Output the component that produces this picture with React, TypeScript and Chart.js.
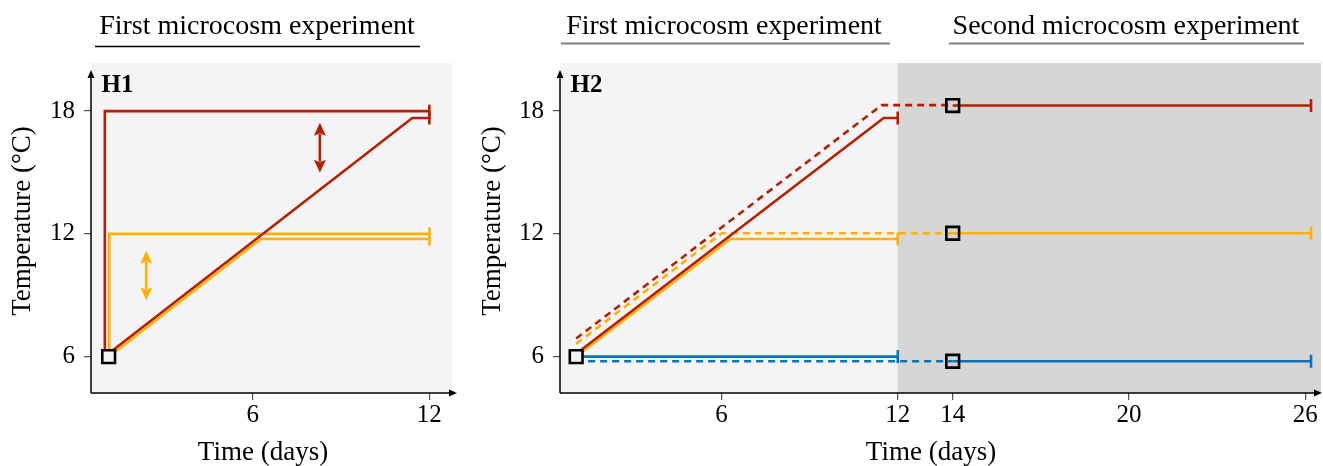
import React, { useEffect, useRef } from "react";
import { Chart, registerables } from "chart.js";

Chart.register(...registerables);

const FONT = "'Liberation Serif', 'Times New Roman', serif";

const RED = "#B51F00";
const YELLOW = "#FFB000";
const BLUE = "#0A72B8";
const LIGHT_BG = "#F4F4F7";
const DARK_BG = "#D6D6D6";

// Tick labels
const Y_TICKS = [6, 12, 18];
const H1_X_TICKS = [6, 12];
const H2_X_TICKS = [6, 12, 14, 20, 26];

// Headers
const H1_HEADERS = ["First microcosm experiment"];
const H2_HEADERS = ["First microcosm experiment", "Second microcosm experiment"];

// ---- H1 (first microcosm experiment) ----
const H1_RED_CONST_DAYS = [0.97, 0.97, 12];
const H1_RED_CONST_TEMP = [6, 18, 18];
const H1_YEL_CONST_DAYS = [1.12, 1.12, 12];
const H1_YEL_CONST_TEMP = [6, 12, 12];
const H1_RED_RAMP_DAYS = [1.1, 11.42, 12];
const H1_RED_RAMP_TEMP = [6.15, 17.66, 17.66];
const H1_YEL_RAMP_DAYS = [1.12, 6.27, 12];
const H1_YEL_RAMP_TEMP = [6.0, 11.75, 11.75];
const H1_START_DAYS = [1.1];
const H1_START_TEMP = [6];
const H1_RED_ARROW_DAY = [8.28];
const H1_RED_ARROW_TEMP = [14.99, 17.43];
const H1_YEL_ARROW_DAY = [2.38];
const H1_YEL_ARROW_TEMP = [8.75, 11.17];

// ---- H2 ----
const H2_RED_SOLID_DAYS = [1.05, 11.52, 12];
const H2_RED_SOLID_TEMP = [6.14, 17.66, 17.66];
const H2_RED_DASH_DAYS = [1.05, 11.45, 14];
const H2_RED_DASH_TEMP = [6.88, 18.29, 18.29];
const H2_YEL_SOLID_DAYS = [1.05, 6.3, 12];
const H2_YEL_SOLID_TEMP = [6.0, 11.75, 11.75];
const H2_YEL_DASH_DAYS = [1.05, 6.0, 14];
const H2_YEL_DASH_TEMP = [6.62, 12.03, 12.03];
const H2_BLUE_SOLID_DAYS = [1.05, 12];
const H2_BLUE_SOLID_TEMP = [6.0, 6.0];
const H2_BLUE_DASH_DAYS = [1.05, 14];
const H2_BLUE_DASH_TEMP = [5.77, 5.77];
const H2_RED_SECOND_DAYS = [14, 26.2];
const H2_RED_SECOND_TEMP = [18.27, 18.27];
const H2_YEL_SECOND_DAYS = [14, 26.2];
const H2_YEL_SECOND_TEMP = [12.03, 12.03];
const H2_BLUE_SECOND_DAYS = [14, 26.2];
const H2_BLUE_SECOND_TEMP = [5.77, 5.77];
const H2_START_DAYS = [1.05];
const H2_START_TEMP = [6];
const H2_SECOND_START_DAYS = [14, 14, 14];
const H2_SECOND_START_TEMP = [18.27, 12.03, 5.77];

// axis between the two experiments is slightly compressed
const AXIS_GAP_SHIFT = 0.13;
const FIRST_END_DAY = 12;
const posH1 = (d: number) => d;
const posH2 = (d: number) => (d > FIRST_END_DAY + 0.5 ? d - AXIS_GAP_SHIFT : d);

function lineDs(pos: (d: number) => number, days: number[], temps: number[], color: string, dash: boolean, cap: boolean, order: number) {
  const last = days.length - 1;
  return {
    type: "line",
    data: days.map((d, i) => ({ x: pos(d), y: temps[i] })),
    borderColor: color,
    backgroundColor: color,
    borderWidth: 2.6,
    borderDash: dash ? [7, 5] : [],
    borderJoinStyle: "miter",
    borderCapStyle: "butt",
    pointStyle: "line",
    rotation: 90,
    pointRotation: 90,
    pointRadius: (ctx: any) => (cap && ctx.dataIndex === last ? 6.5 : 0),
    pointHoverRadius: 0,
    pointBorderColor: color,
    pointBorderWidth: 2.6,
    tension: 0,
    fill: false,
    clip: false,
    order,
  };
}

function squaresDs(pos: (d: number) => number, days: number[], temps: number[], fill: string) {
  return {
    type: "line",
    data: days.map((d, i) => ({ x: pos(d), y: temps[i] })),
    showLine: false,
    pointStyle: "rect",
    pointRadius: 9,
    pointHoverRadius: 9,
    pointBorderWidth: 2.6,
    pointBorderColor: "#000",
    pointBackgroundColor: fill,
    clip: false,
    order: 0,
  };
}

type PanelCfg = {
  width: number;
  xMin: number;
  xMax: number;
  yAxisWidth: number;
  padRight: number;
  xTicks: number[];
  pos: (d: number) => number;
  label: string;
  headers: { text: string; cx: number; x1: number; x2: number; y: number; color: string; lw: number }[];
  xTitleX: number;
  grayFrom?: number;
  arrows: { day: number; temps: number[]; color: string }[];
  datasets: any[];
};

function makePlugin(cfg: PanelCfg) {
  return {
    id: "deco",
    beforeDraw(chart: any) {
      const { ctx, chartArea } = chart;
      const xs = chart.scales.x;
      ctx.save();
      ctx.fillStyle = LIGHT_BG;
      ctx.fillRect(chartArea.left, chartArea.top, chartArea.right - chartArea.left, chartArea.bottom - chartArea.top);
      if (cfg.grayFrom !== undefined) {
        const gx = xs.getPixelForValue(cfg.pos(cfg.grayFrom));
        ctx.fillStyle = DARK_BG;
        ctx.fillRect(gx, chartArea.top, chartArea.right - gx, chartArea.bottom - chartArea.top);
      }
      ctx.restore();
    },
    afterDatasetsDraw(chart: any) {
      const { ctx, chartArea } = chart;
      const xs = chart.scales.x;
      const ys = chart.scales.y;
      ctx.save();
      // double arrows
      for (const a of cfg.arrows) {
        const x = xs.getPixelForValue(cfg.pos(a.day));
        const yTop = ys.getPixelForValue(a.temps[1]);
        const yBot = ys.getPixelForValue(a.temps[0]);
        const L = 13;
        const W = 6;
        ctx.strokeStyle = a.color;
        ctx.fillStyle = a.color;
        ctx.lineWidth = 2.6;
        ctx.beginPath();
        ctx.moveTo(x, yTop + L - 2);
        ctx.lineTo(x, yBot - L + 2);
        ctx.stroke();
        ctx.beginPath();
        ctx.moveTo(x, yTop);
        ctx.lineTo(x - W, yTop + L);
        ctx.lineTo(x, yTop + L * 0.8);
        ctx.lineTo(x + W, yTop + L);
        ctx.closePath();
        ctx.fill();
        ctx.beginPath();
        ctx.moveTo(x, yBot);
        ctx.lineTo(x - W, yBot - L);
        ctx.lineTo(x, yBot - L * 0.8);
        ctx.lineTo(x + W, yBot - L);
        ctx.closePath();
        ctx.fill();
      }
      // axes with arrows
      const left = chartArea.left;
      const bottom = chartArea.bottom;
      const yTip = 70;
      const xTip = Math.min(chartArea.right + 5, chart.width - 1);
      ctx.strokeStyle = "#000";
      ctx.fillStyle = "#000";
      ctx.lineWidth = 1.5;
      ctx.beginPath();
      ctx.moveTo(left, bottom);
      ctx.lineTo(left, yTip + 4);
      ctx.moveTo(left, bottom);
      ctx.lineTo(xTip - 4, bottom);
      ctx.stroke();
      ctx.beginPath();
      ctx.moveTo(left, yTip);
      ctx.lineTo(left - 3.5, yTip + 8);
      ctx.lineTo(left + 3.5, yTip + 8);
      ctx.closePath();
      ctx.fill();
      ctx.beginPath();
      ctx.moveTo(xTip, bottom);
      ctx.lineTo(xTip - 8, bottom - 3.5);
      ctx.lineTo(xTip - 8, bottom + 3.5);
      ctx.closePath();
      ctx.fill();
      ctx.restore();
    },
    afterDraw(chart: any) {
      const { ctx } = chart;
      ctx.save();
      // headers
      ctx.font = `28px ${FONT}`;
      ctx.fillStyle = "#000";
      ctx.textAlign = "center";
      ctx.textBaseline = "alphabetic";
      for (const h of cfg.headers) {
        ctx.fillText(h.text, h.cx, 34);
        ctx.strokeStyle = h.color;
        ctx.lineWidth = h.lw;
        ctx.beginPath();
        ctx.moveTo(h.x1, h.y);
        ctx.lineTo(h.x2, h.y);
        ctx.stroke();
      }
      // panel label
      ctx.font = `bold 25px ${FONT}`;
      ctx.textAlign = "left";
      ctx.fillText(cfg.label, chart.chartArea.left + 10.5, 92);
      // axis titles
      ctx.font = `27px ${FONT}`;
      ctx.textAlign = "center";
      ctx.textBaseline = "middle";
      ctx.fillText("Time (days)", cfg.xTitleX, 453);
      ctx.translate(23, 221);
      ctx.rotate(-Math.PI / 2);
      ctx.fillText("Temperature (°C)", 0, 0);
      ctx.restore();
    },
  };
}

function Panel({ cfg, left }: { cfg: PanelCfg; left: number }) {
  const ref = useRef<HTMLCanvasElement>(null);
  useEffect(() => {
    if (!ref.current) return;
    const chart = new Chart(ref.current, {
      type: "line",
      data: { datasets: cfg.datasets },
      options: {
        animation: false,
        responsive: false,
        devicePixelRatio: 1,
        events: [],
        layout: { autoPadding: false, padding: { left: 0, right: cfg.padRight, top: 63, bottom: 0 } },
        plugins: { legend: { display: false }, tooltip: { enabled: false }, title: { display: false } },
        scales: {
          x: {
            type: "linear",
            min: cfg.xMin,
            max: cfg.xMax,
            afterFit: (s: any) => {
              s.height = 73;
              s.paddingLeft = 0;
              s.paddingRight = 0;
            },
            afterBuildTicks: (s: any) => {
              s.ticks = cfg.xTicks.map((d) => ({ value: cfg.pos(d) }));
            },
            ticks: {
              autoSkip: false,
              maxRotation: 0,
              padding: 0,
              color: "#000",
              font: { family: FONT, size: 25, lineHeight: 1.2 },
              callback: (_v: any, i: number) => String(cfg.xTicks[i]),
            },
            grid: { display: true, drawOnChartArea: false, drawTicks: true, tickLength: 7, color: "#555", lineWidth: 1.2 },
            border: { display: false },
          },
          y: {
            type: "linear",
            min: 4.22,
            max: 20.35,
            afterFit: (s: any) => {
              s.width = cfg.yAxisWidth;
              s.paddingTop = 0;
              s.paddingBottom = 0;
            },
            afterBuildTicks: (s: any) => {
              s.ticks = Y_TICKS.map((v) => ({ value: v }));
            },
            ticks: {
              autoSkip: false,
              padding: 9,
              color: "#000",
              font: { family: FONT, size: 25 },
              callback: (_v: any, i: number) => String(Y_TICKS[i]),
            },
            grid: { display: true, drawOnChartArea: false, drawTicks: true, tickLength: 7, color: "#555", lineWidth: 1.2 },
            border: { display: false },
          },
        },
      } as any,
      plugins: [makePlugin(cfg)],
    });
    return () => chart.destroy();
  }, [cfg]);
  return (
    <canvas
      ref={ref}
      width={cfg.width}
      height={466}
      style={{ position: "absolute", left, top: 0, width: cfg.width, height: 466 }}
    />
  );
}

const H1_CFG: PanelCfg = {
  width: 470,
  xMin: 0.5,
  xMax: 12.77,
  yAxisWidth: 91,
  padRight: 18,
  xTicks: H1_X_TICKS,
  pos: posH1,
  label: "H1",
  headers: [{ text: H1_HEADERS[0], cx: 257, x1: 95, x2: 420, y: 46.5, color: "#000", lw: 1.5 }],
  xTitleX: 263,
  arrows: [
    { day: H1_RED_ARROW_DAY[0], temps: H1_RED_ARROW_TEMP, color: RED },
    { day: H1_YEL_ARROW_DAY[0], temps: H1_YEL_ARROW_TEMP, color: YELLOW },
  ],
  datasets: [
    squaresDs(posH1, H1_START_DAYS, H1_START_TEMP, LIGHT_BG),
    lineDs(posH1, H1_RED_CONST_DAYS, H1_RED_CONST_TEMP, RED, false, true, 2),
    lineDs(posH1, H1_YEL_CONST_DAYS, H1_YEL_CONST_TEMP, YELLOW, false, true, 3),
    lineDs(posH1, H1_RED_RAMP_DAYS, H1_RED_RAMP_TEMP, RED, false, true, 1),
    lineDs(posH1, H1_YEL_RAMP_DAYS, H1_YEL_RAMP_TEMP, YELLOW, false, true, 1),
  ],
};

const H2_CFG: PanelCfg = {
  width: 853,
  xMin: 0.5,
  xMax: 26.41,
  yAxisWidth: 90,
  padRight: 2,
  xTicks: H2_X_TICKS,
  pos: posH2,
  label: "H2",
  headers: [
    { text: H2_HEADERS[0], cx: 254, x1: 91, x2: 420, y: 43.5, color: "#808080", lw: 2 },
    { text: H2_HEADERS[1], cx: 656, x1: 479, x2: 834, y: 43.5, color: "#808080", lw: 2 },
  ],
  xTitleX: 461,
  grayFrom: FIRST_END_DAY,
  arrows: [],
  datasets: [
    squaresDs(posH2, H2_START_DAYS, H2_START_TEMP, LIGHT_BG),
    squaresDs(posH2, H2_SECOND_START_DAYS, H2_SECOND_START_TEMP, "rgba(0,0,0,0)"),
    lineDs(posH2, H2_RED_DASH_DAYS, H2_RED_DASH_TEMP, RED, true, false, 2),
    lineDs(posH2, H2_YEL_DASH_DAYS, H2_YEL_DASH_TEMP, YELLOW, true, false, 2),
    lineDs(posH2, H2_BLUE_DASH_DAYS, H2_BLUE_DASH_TEMP, BLUE, true, false, 2),
    lineDs(posH2, H2_RED_SOLID_DAYS, H2_RED_SOLID_TEMP, RED, false, true, 1),
    lineDs(posH2, H2_YEL_SOLID_DAYS, H2_YEL_SOLID_TEMP, YELLOW, false, true, 1),
    lineDs(posH2, H2_BLUE_SOLID_DAYS, H2_BLUE_SOLID_TEMP, BLUE, false, true, 1),
    lineDs(posH2, H2_RED_SECOND_DAYS, H2_RED_SECOND_TEMP, RED, false, true, 1),
    lineDs(posH2, H2_YEL_SECOND_DAYS, H2_YEL_SECOND_TEMP, YELLOW, false, true, 1),
    lineDs(posH2, H2_BLUE_SECOND_DAYS, H2_BLUE_SECOND_TEMP, BLUE, false, true, 1),
  ],
};

export default function App() {
  return (
    <div style={{ position: "absolute", left: 0, top: 0, width: 1323, height: 466, background: "#fff", overflow: "hidden" }}>
      <Panel cfg={H1_CFG} left={0} />
      <Panel cfg={H2_CFG} left={470} />
    </div>
  );
}
